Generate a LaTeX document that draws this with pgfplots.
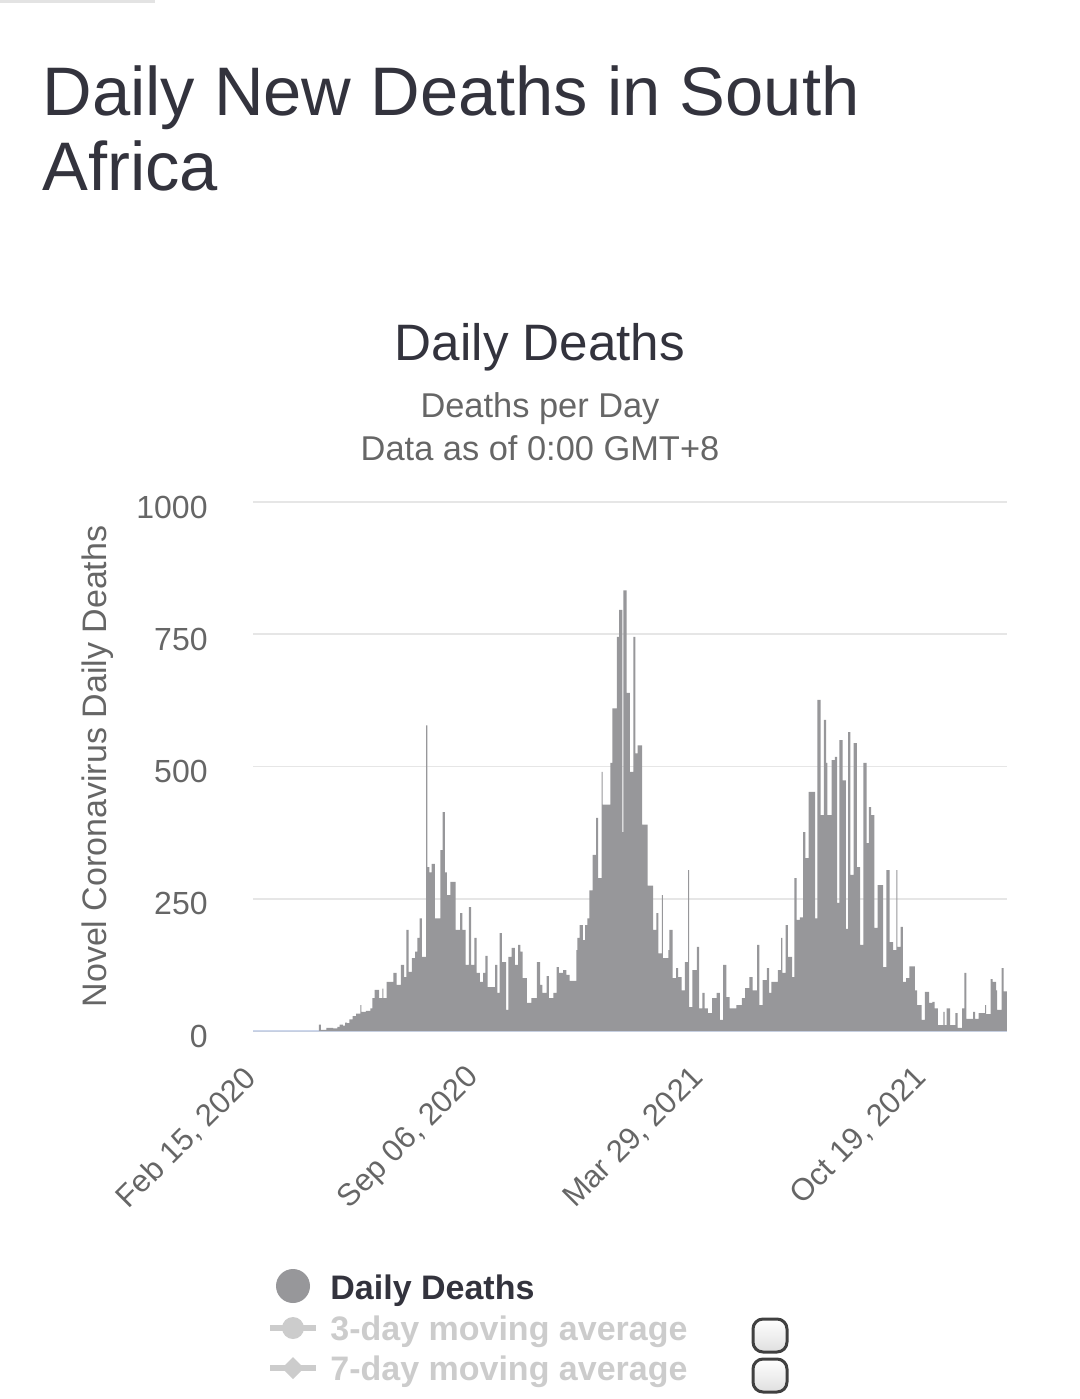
\documentclass[border=0pt]{standalone}
\usepackage{fontspec}
\setmainfont{Liberation Sans}
\usepackage{pgfplots}
\pgfplotsset{compat=1.18}
\definecolor{titlecol}{HTML}{33333D}
\definecolor{subcol}{HTML}{666666}
\definecolor{barcol}{HTML}{97979A}
\definecolor{gridcol}{HTML}{E6E6E6}
\definecolor{basecol}{HTML}{CCD6EB}
\definecolor{offcol}{HTML}{CCCCCC}

\begin{document}
\begin{tikzpicture}
% page laid out in pixel units of the reference (y grows downward)
\begin{scope}[x=0.5pt,y=-0.5pt]
\path[use as bounding box] (0,0) rectangle (1080,1399);
\draw[line width=1.5pt, gray!22] (0,1) -- (155,1);
\node[anchor=base west, inner sep=0, text=titlecol, font=\fontsize{34.35}{37.5}\selectfont] at (42,115) {Daily New Deaths in South};
\node[anchor=base west, inner sep=0, text=titlecol, font=\fontsize{34.35}{37.5}\selectfont] at (42,190) {Africa};
\node[anchor=base, inner sep=0, text=titlecol, font=\fontsize{25.6}{30}\selectfont] at (540,360) {Daily Deaths};
\node[anchor=base, inner sep=0, text=subcol, font=\fontsize{17.2}{20}\selectfont] at (540,417) {Deaths per Day};
\node[anchor=base, inner sep=0, text=subcol, font=\fontsize{17.2}{20}\selectfont] at (540,460) {Data as of 0:00 GMT+8};
% legend
\fill[barcol] (293,1286) circle (8.5pt);
\node[anchor=base west, inner sep=0, text=titlecol, font=\fontsize{17}{20}\selectfont\bfseries] at (330,1299) {Daily Deaths};
\draw[offcol, line width=3pt] (270,1328) -- (316,1328);
\fill[offcol] (293,1328) circle (5.5pt);
\node[anchor=base west, inner sep=0, text=offcol, font=\fontsize{17}{20}\selectfont\bfseries] at (330,1340) {3-day moving average};
\draw[offcol, line width=3pt] (270,1368) -- (316,1368);
\fill[offcol] (293,1357) -- (304,1368) -- (293,1379) -- (282,1368) -- cycle;
\node[anchor=base west, inner sep=0, text=offcol, font=\fontsize{17}{20}\selectfont\bfseries] at (330,1380) {7-day moving average};
\shade[top color=white, bottom color=gray!25, rounded corners=5pt] (753,1319) rectangle (787,1352);
\draw[line width=1.5pt, black!75, rounded corners=5pt] (753,1319) rectangle (787,1352);
\shade[top color=white, bottom color=gray!25, rounded corners=5pt] (753,1359) rectangle (787,1392);
\draw[line width=1.5pt, black!75, rounded corners=5pt] (753,1359) rectangle (787,1392);
\end{scope}

\begin{axis}[
  at={(126.5pt,-515.5pt)}, anchor=south west,
  scale only axis, width=377pt, height=264.5pt,
  xmin=0, xmax=688, ymin=0, ymax=1000,
  axis x line*=bottom, axis y line*=left,
  x axis line style={draw=basecol, line width=1pt},
  y axis line style={draw=none},
  major tick length=0pt,
  ymajorgrids, major grid style={draw=gridcol, line width=0.8pt},
  ytick={0,250,500,750,1000},
  yticklabels={0,250,500,750,1000},
  yticklabel style={font=\fontsize{16}{18}\selectfont, text=subcol, anchor=east, inner sep=0pt, xshift=-22.5pt, yshift=-2.5pt},
  xtick={0,204,408,612},
  xticklabels={{Feb 15, 2020},{Sep 06, 2020},{Mar 29, 2021},{Oct 19, 2021}},
  xticklabel style={font=\fontsize{15.5}{18}\selectfont, text=subcol, rotate=45, anchor=east, inner sep=0pt, yshift=-14.3pt, xshift=-15.4pt},
  ylabel={Novel Coronavirus Daily Deaths},
  ylabel style={at={(axis description cs:-0.2056,0.5)}, anchor=center, font=\fontsize{17}{20}\selectfont, text=subcol},
  clip=false,
]
% daily deaths, days since Feb 15, 2020
\addplot[const plot, fill=barcol, draw=none] coordinates {
(0,0) (60,12) (62,2) (67,6) (73,5) (77,8) (79,12) (82,10) (84,16) (86,15)
(88,22) (91,28) (94,33) (98,49) (99,36) (103,38) (107,43) (109,62) (111,78) (115,62)
(118,80) (119,62) (122,93) (128,110) (131,87) (135,125) (138,102) (140,191) (142,112) (145,138)
(148,150) (150,176) (152,213) (154,140) (158,578) (159,310) (161,300) (163,316) (166,213) (171,342)
(173,414) (175,300) (177,257) (180,282) (185,191) (189,223) (191,191) (194,125) (197,234) (199,125)
(202,176) (204,110) (207,93) (210,110) (212,142) (214,83) (221,125) (223,72) (225,185) (227,130)
(231,40) (233,140) (236,157) (239,125) (242,163) (244,150) (246,100) (250,53) (254,62) (259,130)
(262,87) (264,72) (268,104) (270,62) (274,72) (277,121) (279,110) (283,115) (286,106) (289,95)
(295,153) (296,176) (298,200) (301,172) (303,200) (305,213) (307,266) (310,333) (313,403) (315,289)
(318,490) (319,428) (326,507) (328,610) (332,745) (334,796) (337,376) (338,833) (341,639) (344,490)
(347,745) (349,525) (351,540) (355,390) (360,275) (365,191) (368,223) (370,147) (373,257) (374,138)
(379,153) (380,191) (383,100) (386,119) (388,102) (391,77) (394,130) (397,304) (398,45) (401,115)
(405,159) (407,43) (410,72) (412,43) (415,34) (419,62) (423,72) (426,21) (429,125) (432,64)
(435,43) (441,49) (446,62) (449,81) (453,102) (456,77) (460,163) (462,49) (465,96) (469,119)
(471,72) (473,93) (479,115) (482,176) (483,110) (486,200) (488,140) (492,102) (494,289) (496,210)
(499,215) (502,376) (504,327) (507,452) (513,213) (515,626) (518,408) (521,588) (523,507) (524,408)
(528,512) (531,518) (533,242) (535,550) (538,474) (541,193) (543,565) (545,295) (548,544) (551,310)
(554,163) (557,507) (560,355) (562,423) (564,408) (567,195) (570,276) (575,121) (578,304) (581,168)
(584,153) (587,304) (588,159) (591,197) (593,93) (596,100) (599,122) (604,77) (606,49) (610,21)
(613,74) (617,53) (620,55) (622,43) (625,11) (630,36) (631,11) (633,43) (636,11) (641,34)
(643,6) (647,43) (649,110) (651,23) (657,36) (659,23) (662,34) (668,49) (669,32) (673,98)
(675,93) (678,77) (679,40) (683,119) (685,75) (688,75)
} \closedcycle;
\end{axis}
\end{tikzpicture}
\end{document}
